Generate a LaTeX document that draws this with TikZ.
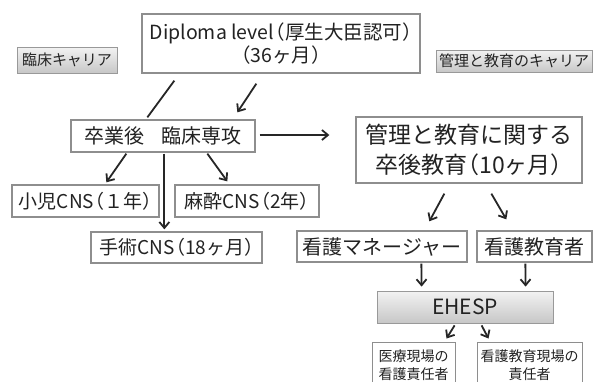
\documentclass[tikz,border=0pt]{standalone}
\usepackage{fontspec}
\setmainfont[RawFeature=+halt]{Noto Sans CJK JP}
\usetikzlibrary{calc,arrows.meta,shadows}
\definecolor{boxline}{HTML}{8E8E8E}
\definecolor{txt}{HTML}{222222}
\tikzset{
  box/.style={draw=boxline, line width=1.3pt, fill=white, text=txt, inner sep=0pt, align=center},
  btn/.style={draw=boxline!90, line width=0.8pt, top color=white!95!black, bottom color=black!22, text=txt, inner sep=0pt,
    drop shadow={shadow xshift=1.2pt, shadow yshift=-1.2pt, opacity=0.35}},
  conn/.style={line width=1.8pt, black!85},
  arr/.style={conn, -{Straight Barb[length=6pt,width=10pt,line width=1.8pt]}},
  fs/.style={font=\fontsize{#1}{24}\selectfont}
}
\begin{document}
\begin{tikzpicture}[x=1pt,y=-1pt]
\useasboundingbox (0,0) rectangle (595,381);
% nodes
\node[box, font=\fontsize{19.5}{23}\selectfont, minimum width=278, minimum height=59] (dip) at (281,43.5) {Diploma level\kern1.5pt（厚生大臣認可）\\（36ヶ月）};
\node[btn, fs=15, minimum width=100, minimum height=26] (lbtn) at (67,60) {臨床キャリア};
\node[btn, fs=15, minimum width=156, minimum height=22] (rbtn) at (514,61) {管理と教育のキャリア};
\node[box, fs=20, minimum width=184, minimum height=32] (grad) at (163,136) {卒業後\hspace{0.9em}臨床専攻};
\node[box, font=\fontsize{23}{30}\selectfont, minimum width=226, minimum height=66] (kanri) at (469,150) {管理と教育に関する\\卒後教育（10ヶ月）};
\node[box, fs=19, minimum width=147, minimum height=32] (shoni) at (85.5,201) {小児CNS\kern1pt（１年）};
\node[box, fs=19, minimum width=144, minimum height=32] (masui) at (247,201) {麻酔CNS\kern1pt（2年）};
\node[box, fs=19, minimum width=171, minimum height=31] (shujutsu) at (176.5,247.5) {手術CNS\kern1pt（18ヶ月）};
\node[box, fs=20, minimum width=170, minimum height=31] (mgr) at (382,246.5) {看護マネージャー};
\node[box, fs=20, minimum width=115, minimum height=31] (edu) at (534.5,246.5) {看護教育者};
\node[btn, fs=21, minimum width=176, minimum height=32] (ehesp) at (465,307) {EHESP};
\node[box, line width=1pt, font=\fontsize{14}{18}\selectfont, minimum width=83, minimum height=46] (iryo) at (413.5,365) {医療現場の\\看護責任者};
\node[box, line width=1pt, font=\fontsize{14}{18}\selectfont, minimum width=105, minimum height=46] (kyoiku) at (529.5,365) {看護教育現場の\\責任者};
% connectors
\draw[conn] ($(dip.south west)+(33,7)$) -- ($(grad.north west)+(77,-2)$);
\draw[arr] ($(dip.south west)+(115,10)$) -- ($(grad.north west)+(167,-7)$);
\draw[arr] ($(grad.east)+(4,-1)$) -- ($(kanri.west)+(-26,-15)$);
\draw[arr] ($(grad.south west)+(56,1)$) -- ($(shoni.north west)+(95,-2)$);
\draw[arr] ($(grad.south west)+(94,1)$) -- ($(shujutsu.north west)+(74,-2)$);
\draw[arr] ($(grad.south west)+(137,1)$) -- ($(masui.north west)+(53,-3)$);
\draw[arr] ($(kanri.south west)+(89,10)$) -- ($(mgr.north west)+(133,-9)$);
\draw[arr] ($(kanri.south west)+(136,10)$) -- ($(edu.north west)+(30,-11)$);
\draw[arr] ($(mgr.south west)+(125,1)$) -- ($(ehesp.north west)+(45,-4)$);
\draw[arr] ($(edu.south west)+(49,1)$) -- ($(ehesp.north west)+(149,-4)$);
\draw[arr] ($(ehesp.south west)+(78,2)$) -- ($(iryo.north west)+(75,-3)$);
\draw[arr] ($(ehesp.south west)+(105,2)$) -- ($(kyoiku.north west)+(12,-3)$);
\end{tikzpicture}
\end{document}
